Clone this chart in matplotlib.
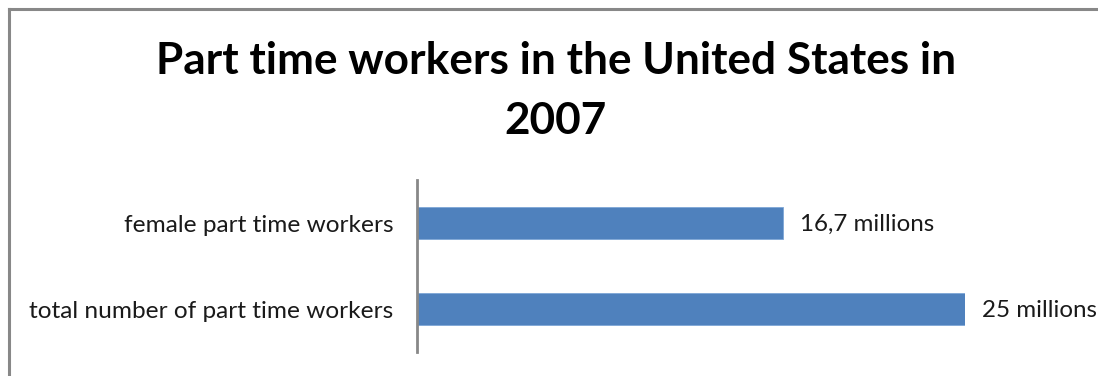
import matplotlib
matplotlib.use('Agg')
import matplotlib.pyplot as plt

categories = ['total number of part time workers', 'female part time workers']
values = [25, 16.7]
value_labels = ['25 millions', '16,7 millions']
title = 'Part time workers in the United States in\n2007'

plt.rcParams['font.family'] = ['Lato', 'DejaVu Sans']

fig = plt.figure(figsize=(10.98, 3.76), dpi=100)
# grey frame of the chart area (only left and top edges are visible)
fig.add_artist(plt.Line2D([9 / 1098, 9 / 1098], [0, 1 - 9 / 376], color='#888888', lw=2.2))
fig.add_artist(plt.Line2D([9 / 1098, 1], [1 - 9 / 376, 1 - 9 / 376], color='#888888', lw=2.2))

ax = fig.add_axes([417 / 1098, 24 / 376, 548 / 1098, 172 / 376])
y = range(len(categories))
ax.barh(y, values, height=0.38, color='#4F81BD', edgecolor='#7EA6D6', linewidth=0.6)
ax.set_xlim(0, 25)
ax.set_ylim(-0.5, 1.5)
ax.set_yticks(list(y))
ax.set_yticklabels(categories, fontsize=17.6, color='#1a1a1a')
ax.tick_params(axis='y', length=0, pad=17)
ax.set_xticks([])
for s in ['top', 'right', 'bottom']:
    ax.spines[s].set_visible(False)
ax.spines['left'].set_color('#888888')
ax.spines['left'].set_linewidth(2)

for yi, v, lab in zip(y, values, value_labels):
    ax.annotate(lab, (v, yi), xytext=(12, -1), textcoords='offset points',
                va='center', ha='left', fontsize=17.4, color='#1a1a1a',
                annotation_clip=False)

fig.text(556 / 1098, 1 - 91 / 376, title, ha='center', va='center',
         fontsize=31.8, fontweight='bold', linespacing=1.62, color='black')

fig.savefig('out.png', dpi=100)
